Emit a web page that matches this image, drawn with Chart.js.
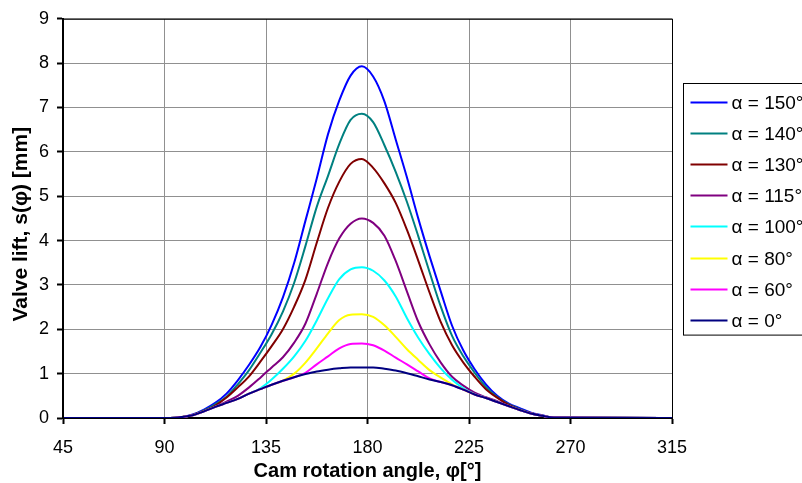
<!DOCTYPE html>
<html>
<head>
<meta charset="utf-8">
<script src="https://cdn.jsdelivr.net/npm/chart.js@4"></script>
<style>
  body { margin: 0; background: #fff; }
</style>
</head>
<body>
<canvas id="myChart" width="802" height="483"></canvas>
<script>
// cam rotation angle in degrees
const angles = [45, 92.5, 97.5, 102.5, 107.5, 112.5, 117.5, 122.5, 127.5, 132.5, 137.5,
    142.5, 147.5, 152.5, 157.5, 162.5, 167.5, 172.5, 177.5, 182.5, 187.5, 192.5, 197.5,
    202.5, 207.5, 212.5, 217.5, 222.5, 227.5, 232.5, 237.5, 242.5, 247.5, 252.5, 257.5, 262.5, 315];

// valve lift in mm, one array per alpha
const lift150 = [0, 0, 0.02, 0.08, 0.19, 0.34, 0.55, 0.85, 1.20, 1.60, 2.10, 2.72, 3.50, 4.45, 5.40, 6.40, 7.16, 7.72, 7.93,
    7.70, 7.14, 6.28, 5.42, 4.50, 3.65, 2.85, 2.08, 1.52, 1.10, 0.76, 0.50, 0.33, 0.22, 0.12, 0.06, 0.01, 0];
const lift140 = [0, 0, 0.02, 0.07, 0.17, 0.31, 0.48, 0.76, 1.08, 1.47, 1.89, 2.40, 3.05, 3.88, 4.76, 5.46, 6.18, 6.72, 6.86,
    6.67, 6.15, 5.55, 4.87, 4.10, 3.29, 2.51, 1.85, 1.39, 1.02, 0.70, 0.47, 0.31, 0.20, 0.11, 0.05, 0.01, 0];
const lift130 = [0, 0, 0.02, 0.07, 0.16, 0.28, 0.46, 0.69, 0.94, 1.27, 1.62, 2.00, 2.51, 3.12, 3.95, 4.74, 5.33, 5.73, 5.84,
    5.64, 5.29, 4.85, 4.24, 3.55, 2.83, 2.16, 1.64, 1.25, 0.93, 0.65, 0.46, 0.30, 0.19, 0.11, 0.05, 0.01, 0];
const lift115 = [0, 0, 0.02, 0.06, 0.15, 0.26, 0.37, 0.50, 0.69, 0.91, 1.14, 1.37, 1.70, 2.13, 2.80, 3.50, 4.05, 4.38, 4.50,
    4.40, 4.11, 3.54, 2.85, 2.17, 1.66, 1.25, 0.93, 0.73, 0.57, 0.47, 0.38, 0.27, 0.18, 0.10, 0.05, 0.01, 0];
const lift100 = [0, 0, 0.02, 0.06, 0.15, 0.25, 0.34, 0.43, 0.55, 0.67, 0.87, 1.11, 1.39, 1.74, 2.20, 2.70, 3.13, 3.35, 3.40,
    3.32, 3.10, 2.74, 2.25, 1.81, 1.44, 1.12, 0.86, 0.67, 0.54, 0.45, 0.36, 0.27, 0.18, 0.10, 0.05, 0.01, 0];
const lift80 = [0, 0, 0.02, 0.06, 0.15, 0.25, 0.34, 0.43, 0.55, 0.65, 0.75, 0.84, 1.00, 1.25, 1.57, 1.91, 2.21, 2.33, 2.34,
    2.28, 2.09, 1.83, 1.55, 1.31, 1.08, 0.91, 0.76, 0.64, 0.53, 0.45, 0.36, 0.27, 0.18, 0.10, 0.05, 0.01, 0];
const lift60 = [0, 0, 0.02, 0.06, 0.15, 0.25, 0.34, 0.43, 0.55, 0.65, 0.75, 0.84, 0.92, 1.02, 1.21, 1.39, 1.57, 1.67, 1.68,
    1.64, 1.52, 1.36, 1.21, 1.05, 0.89, 0.81, 0.74, 0.64, 0.53, 0.45, 0.36, 0.27, 0.18, 0.10, 0.05, 0.01, 0];
const lift0 = [0, 0, 0.02, 0.06, 0.15, 0.25, 0.34, 0.43, 0.55, 0.65, 0.75, 0.84, 0.92, 0.99, 1.05, 1.09, 1.12, 1.14, 1.14,
    1.14, 1.11, 1.07, 1.01, 0.94, 0.87, 0.81, 0.74, 0.64, 0.53, 0.45, 0.36, 0.27, 0.18, 0.10, 0.05, 0.01, 0];

const seriesLabels = ['α = 150°', 'α = 140°', 'α = 130°', 'α = 115°', 'α = 100°', 'α = 80°', 'α = 60°', 'α = 0°'];
const seriesValues = [lift150, lift140, lift130, lift115, lift100, lift80, lift60, lift0];
const seriesColors = ['#0000ff', '#008080', '#800000', '#800080', '#00ffff', '#ffff00', '#ff00ff', '#000080'];

const xTicks = [45, 90, 135, 180, 225, 270, 315];

const FONT = '"Liberation Sans", Arial, sans-serif';

const datasets = seriesLabels.map((label, i) => ({
    label: label,
    data: angles.map((a, j) => ({ x: a, y: seriesValues[i][j] })),
    borderColor: seriesColors[i],
    borderWidth: 2,
    pointRadius: 0,
    cubicInterpolationMode: 'monotone',
    order: seriesLabels.length - 1 - i   // last series drawn on top, like the original
}));

// box legend at the right, partly cut off by the edge
const boxLegend = {
    id: 'boxLegend',
    afterDraw(chart) {
        const c = chart.ctx;
        const area = chart.chartArea;
        const x0 = area.right + 11.5;
        const y0 = 83.5;
        const rowH = 31.2;
        c.save();
        // plot area frame
        c.strokeStyle = '#000';
        c.lineWidth = 1;
        c.strokeRect(area.left + 0.5, area.top + 0.5, area.right - area.left, area.bottom - area.top);
        // legend frame
        c.strokeRect(x0, y0, 150, rowH * seriesLabels.length + 2);
        c.font = '19px ' + FONT;
        c.textBaseline = 'middle';
        c.fillStyle = '#000';
        seriesLabels.forEach((label, i) => {
            const y = Math.round(y0 + 18 + i * rowH) + 0.5;
            c.strokeStyle = seriesColors[i];
            c.lineWidth = 2;
            c.beginPath();
            c.moveTo(x0 + 7, y);
            c.lineTo(x0 + 44, y);
            c.stroke();
            c.fillText(label, x0 + 48, y + 1);
        });
        c.restore();
    }
};

const ctx = document.getElementById('myChart');

new Chart(ctx, {
    type: 'line',
    data: { datasets: datasets },
    plugins: [boxLegend],
    options: {
        responsive: false,
        animation: false,
        layout: { padding: { left: 0, top: 16, right: 130, bottom: 0 } },
        plugins: {
            legend: { display: false },
            tooltip: { enabled: false }
        },
        scales: {
            x: {
                type: 'linear',
                min: 45,
                max: 315,
                afterBuildTicks: (s) => { s.ticks = xTicks.map(v => ({ value: v })); },
                afterFit: (s) => { s.height = 65; },
                grid: { color: '#909090', tickColor: '#000', tickLength: 6, tickWidth: 2 },
                border: { color: '#000', width: 2 },
                ticks: { color: '#000', font: { family: FONT, size: 18 }, padding: 13, maxRotation: 0 },
                title: {
                    display: true,
                    text: 'Cam rotation angle, φ[°]',
                    color: '#000',
                    font: { family: FONT, size: 20, weight: 'bold' },
                    padding: { top: 0, bottom: 0 }
                }
            },
            y: {
                min: 0,
                max: 9,
                ticks: { stepSize: 1, color: '#000', font: { family: FONT, size: 18 }, padding: 8 },
                afterFit: (s) => { s.width = 63; },
                grid: { color: '#909090', tickColor: '#000', tickLength: 6, tickWidth: 2 },
                border: { color: '#000', width: 2 },
                title: {
                    display: true,
                    text: 'Valve lift, s(φ) [mm]\u00a0\u00a0',
                    color: '#000',
                    font: { family: FONT, size: 21, weight: 'bold' },
                    padding: { top: 9, bottom: 0 }
                }
            }
        }
    }
});
</script>
</body>
</html>
